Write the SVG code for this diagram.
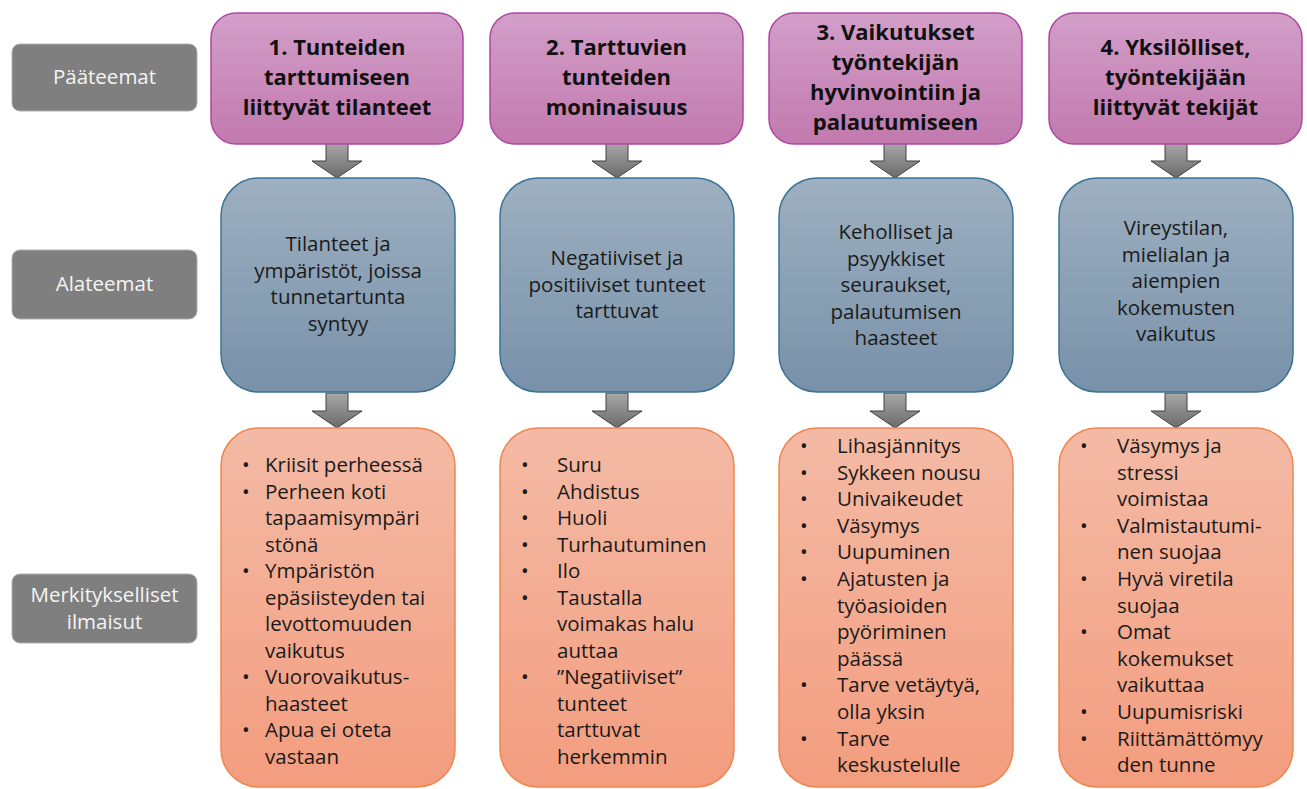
<svg xmlns="http://www.w3.org/2000/svg" width="1307" height="789" viewBox="0 0 1307 789">
<defs>
<linearGradient id="gP" x1="0" y1="0" x2="0" y2="1"><stop offset="0" stop-color="#d29fc9"/><stop offset="1" stop-color="#c279ae"/></linearGradient>
<linearGradient id="gB" x1="0" y1="0" x2="0" y2="1"><stop offset="0" stop-color="#9eb0c1"/><stop offset="1" stop-color="#7891a9"/></linearGradient>
<linearGradient id="gO" x1="0" y1="0" x2="0" y2="1"><stop offset="0" stop-color="#f4baa5"/><stop offset="1" stop-color="#f39d7f"/></linearGradient>
<linearGradient id="gA" x1="0" y1="0" x2="0" y2="1"><stop offset="0" stop-color="#a8a8a8"/><stop offset="1" stop-color="#6a6a6a"/></linearGradient>
<path id="arr" d="M-11,0 H11 V18 H25 L0,35 L-25,18 H-11 Z"/>
</defs>
<style>
.lbl rect{fill:#7f7f7f;stroke:#b0b0b0;stroke-width:1}
.lbl text{font-family:"Open Sans","Liberation Sans",sans-serif;font-size:20.5px;fill:#f4f4f4;text-anchor:middle}
.hd rect{fill:url(#gP);stroke:#ad47a3;stroke-width:1.5}
.hd text{font-family:"Open Sans","Liberation Sans",sans-serif;font-size:22px;font-weight:bold;fill:#111;text-anchor:middle}
.sub rect{fill:url(#gB);stroke:#3b7496;stroke-width:1.5}
.sub text{font-family:"Open Sans","Liberation Sans",sans-serif;font-size:20.5px;fill:#1a1a1a;text-anchor:middle}
.ex rect{fill:url(#gO);stroke:#ee8650;stroke-width:1.5}
.ex text{font-family:"Open Sans","Liberation Sans",sans-serif;font-size:20.5px;fill:#1a1a1a}
.conn use{fill:url(#gA);stroke:#404040;stroke-width:1}
</style>
<rect width="1307" height="789" fill="#ffffff"/>

<g id="label-paateemat" class="lbl"><rect x="12" y="44" width="185" height="67" rx="8"/><text x="104.5" y="84">Pääteemat</text></g>
<g id="label-alateemat" class="lbl"><rect x="12" y="250" width="185" height="69" rx="8"/><text x="104.5" y="291">Alateemat</text></g>
<g id="label-merkitykselliset" class="lbl"><rect x="12" y="574" width="185" height="69" rx="8"/><text x="104.5" y="602">Merkitykselliset</text><text x="104.5" y="629">ilmaisut</text></g>

<g id="connectors" class="conn">
<use href="#arr" x="337" y="143"/>
<use href="#arr" x="617" y="143"/>
<use href="#arr" x="895" y="143"/>
<use href="#arr" x="1176" y="143"/>
<use href="#arr" x="337" y="393"/>
<use href="#arr" x="617" y="393"/>
<use href="#arr" x="895" y="393"/>
<use href="#arr" x="1176" y="393"/>
</g>

<g id="head1" class="hd"><rect x="211" y="13" width="252" height="131" rx="25"/>
<text x="337" y="55">1. Tunteiden</text><text x="337" y="85">tarttumiseen</text><text x="337" y="115">liittyvät tilanteet</text></g>
<g id="head2" class="hd"><rect x="490" y="13" width="253" height="131" rx="25"/>
<text x="616.5" y="55">2. Tarttuvien</text><text x="616.5" y="85">tunteiden</text><text x="616.5" y="115">moninaisuus</text></g>
<g id="head3" class="hd"><rect x="769" y="13" width="253" height="131" rx="25"/>
<text x="895.5" y="40">3. Vaikutukset</text><text x="895.5" y="70">työntekijän</text><text x="895.5" y="100">hyvinvointiin ja</text><text x="895.5" y="130">palautumiseen</text></g>
<g id="head4" class="hd"><rect x="1049" y="13" width="253" height="131" rx="25"/>
<text x="1175.5" y="55">4. Yksilölliset,</text><text x="1175.5" y="85">työntekijään</text><text x="1175.5" y="115">liittyvät tekijät</text></g>

<g id="sub1" class="sub"><rect x="221" y="178" width="234" height="214" rx="38"/>
<text x="338" y="251">Tilanteet ja</text><text x="338" y="277.5">ympäristöt, joissa</text><text x="338" y="304">tunnetartunta</text><text x="338" y="330.5">syntyy</text></g>
<g id="sub2" class="sub"><rect x="500" y="178" width="234" height="214" rx="38"/>
<text x="617" y="265">Negatiiviset ja</text><text x="617" y="291.5">positiiviset tunteet</text><text x="617" y="318">tarttuvat</text></g>
<g id="sub3" class="sub"><rect x="779" y="178" width="234" height="214" rx="38"/>
<text x="896" y="239">Keholliset ja</text><text x="896" y="265.5">psyykkiset</text><text x="896" y="292">seuraukset,</text><text x="896" y="318.5">palautumisen</text><text x="896" y="345">haasteet</text></g>
<g id="sub4" class="sub"><rect x="1059" y="178" width="234" height="214" rx="38"/>
<text x="1176" y="235">Vireystilan,</text><text x="1176" y="261.5">mielialan ja</text><text x="1176" y="288">aiempien</text><text x="1176" y="314.5">kokemusten</text><text x="1176" y="341">vaikutus</text></g>

<g id="ex1" class="ex"><rect x="221" y="428" width="234" height="359" rx="38"/>
<text x="242" y="472">•</text><text x="265" y="472">Kriisit perheessä</text>
<text x="242" y="498.5">•</text><text x="265" y="498.5">Perheen koti</text>
<text x="265" y="525">tapaamisympäri</text>
<text x="265" y="551.5">stönä</text>
<text x="242" y="578">•</text><text x="265" y="578">Ympäristön</text>
<text x="265" y="604.5">epäsiisteyden tai</text>
<text x="265" y="631">levottomuuden</text>
<text x="265" y="657.5">vaikutus</text>
<text x="242" y="684">•</text><text x="265" y="684">Vuorovaikutus-</text>
<text x="265" y="710.5">haasteet</text>
<text x="242" y="737">•</text><text x="265" y="737">Apua ei oteta</text>
<text x="265" y="763.5">vastaan</text></g>

<g id="ex2" class="ex"><rect x="500" y="428" width="234" height="359" rx="38"/>
<text x="521" y="472">•</text><text x="557" y="472">Suru</text>
<text x="521" y="498.5">•</text><text x="557" y="498.5">Ahdistus</text>
<text x="521" y="525">•</text><text x="557" y="525">Huoli</text>
<text x="521" y="551.5">•</text><text x="557" y="551.5">Turhautuminen</text>
<text x="521" y="578">•</text><text x="557" y="578">Ilo</text>
<text x="521" y="604.5">•</text><text x="557" y="604.5">Taustalla</text>
<text x="557" y="631">voimakas halu</text>
<text x="557" y="657.5">auttaa</text>
<text x="521" y="684">•</text><text x="557" y="684">”Negatiiviset”</text>
<text x="557" y="710.5">tunteet</text>
<text x="557" y="737">tarttuvat</text>
<text x="557" y="763.5">herkemmin</text></g>

<g id="ex3" class="ex"><rect x="779" y="428" width="234" height="359" rx="38"/>
<text x="800" y="453">•</text><text x="837" y="453">Lihasjännitys</text>
<text x="800" y="479.6">•</text><text x="837" y="479.6">Sykkeen nousu</text>
<text x="800" y="506.2">•</text><text x="837" y="506.2">Univaikeudet</text>
<text x="800" y="532.8">•</text><text x="837" y="532.8">Väsymys</text>
<text x="800" y="559.4">•</text><text x="837" y="559.4">Uupuminen</text>
<text x="800" y="586">•</text><text x="837" y="586">Ajatusten ja</text>
<text x="837" y="612.6">työasioiden</text>
<text x="837" y="639.2">pyöriminen</text>
<text x="837" y="665.8">päässä</text>
<text x="800" y="692.4">•</text><text x="837" y="692.4">Tarve vetäytyä,</text>
<text x="837" y="719">olla yksin</text>
<text x="800" y="745.6">•</text><text x="837" y="745.6">Tarve</text>
<text x="837" y="772.2">keskustelulle</text></g>

<g id="ex4" class="ex"><rect x="1059" y="428" width="234" height="359" rx="38"/>
<text x="1080" y="453">•</text><text x="1117" y="453">Väsymys ja</text>
<text x="1117" y="479.6">stressi</text>
<text x="1117" y="506.2">voimistaa</text>
<text x="1080" y="532.8">•</text><text x="1117" y="532.8">Valmistautumi-</text>
<text x="1117" y="559.4">nen suojaa</text>
<text x="1080" y="586">•</text><text x="1117" y="586">Hyvä viretila</text>
<text x="1117" y="612.6">suojaa</text>
<text x="1080" y="639.2">•</text><text x="1117" y="639.2">Omat</text>
<text x="1117" y="665.8">kokemukset</text>
<text x="1117" y="692.4">vaikuttaa</text>
<text x="1080" y="719">•</text><text x="1117" y="719">Uupumisriski</text>
<text x="1080" y="745.6">•</text><text x="1117" y="745.6">Riittämättömyy</text>
<text x="1117" y="772.2">den tunne</text></g>
</svg>
